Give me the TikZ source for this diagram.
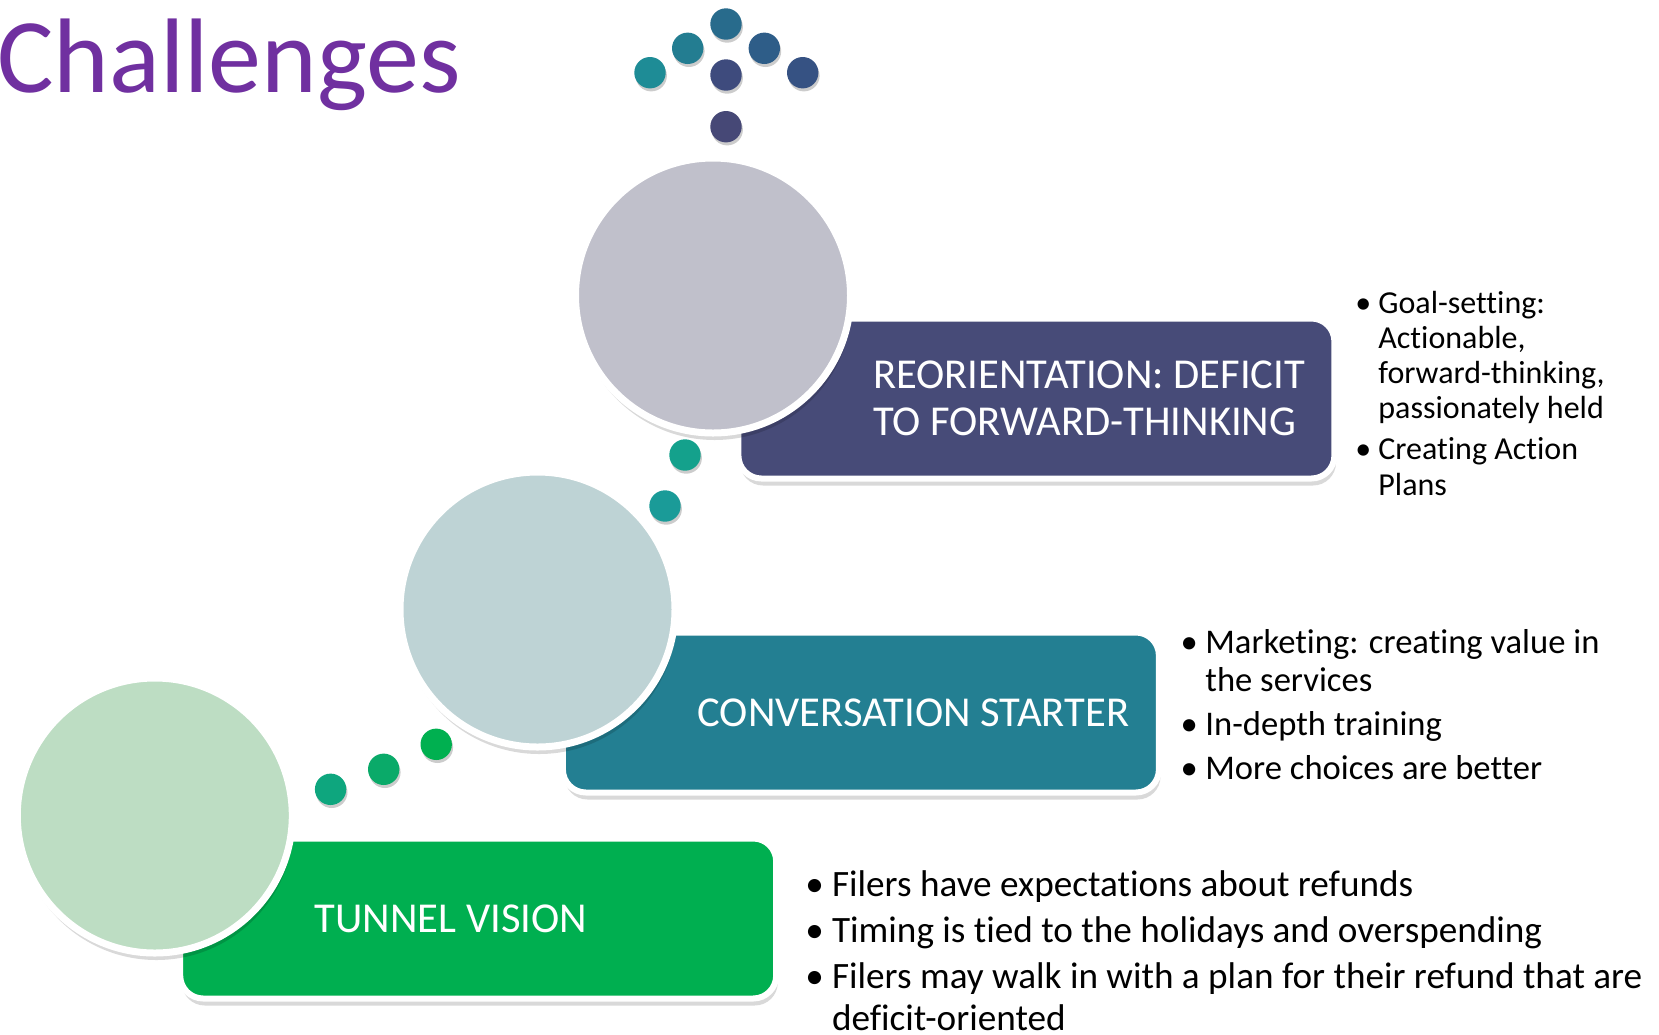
\documentclass[tikz,border=0pt]{standalone}
\usepackage{fontspec}
\setmainfont[Ligatures={NoCommon}]{Carlito}
\usepackage{tikz}
\usetikzlibrary{positioning, shadows}
\definecolor{titlepurple}{RGB}{112, 48, 160}
\definecolor{slatebox}{RGB}{71, 75, 120}
\definecolor{tealbox}{RGB}{35, 127, 146}
\definecolor{greenbox}{RGB}{0, 175, 80}
\definecolor{slatebubble}{RGB}{192, 192, 203}
\definecolor{tealbubble}{RGB}{190, 211, 213}
\definecolor{greenbubble}{RGB}{189, 221, 195}
% colours of the small dots, from green over teal to slate
\definecolor{trailA}{RGB}{14, 166, 126}
\definecolor{trailB}{RGB}{10, 170, 105}
\definecolor{trailC}{RGB}{0, 176, 80}
\definecolor{trailD}{RGB}{26, 155, 152}
\definecolor{trailE}{RGB}{20, 161, 140}
\definecolor{crownA}{RGB}{30, 140, 150}
\definecolor{crownB}{RGB}{35, 125, 145}
\definecolor{crownC}{RGB}{40, 107, 140}
\definecolor{crownD}{RGB}{46, 93, 136}
\definecolor{crownE}{RGB}{54, 82, 131}
\definecolor{crownF}{RGB}{62, 75, 125}
\definecolor{crownG}{RGB}{70, 72, 118}

\newcommand{\itemdot}{\llap{\textbullet\hspace{0.22em}}}

\begin{document}
\begin{tikzpicture}[
    x=0.5pt, y=-0.5pt,
    bubble/.style={circle, draw=white, line width=3.5pt, minimum size=137.5pt, inner sep=0pt,
        drop shadow={shadow xshift=0.8pt, shadow yshift=-3.5pt, opacity=0.15, fill=black}},
    stage/.style={rectangle, rounded corners=11.5pt, draw=white, line width=3pt, minimum width=298pt,
        minimum height=80pt, inner sep=0pt, anchor=north west, xshift=11.2pt, yshift=-10pt,
        drop shadow={shadow xshift=0.8pt, shadow yshift=-3.5pt, opacity=0.15, fill=black}},
    stagetext/.style={anchor=west, align=left, inner sep=0pt, text=white, font=\fontsize{21.3pt}{23.8pt}\selectfont},
    trail/.style={circle, minimum size=15.7pt, inner sep=0pt,
        drop shadow={shadow xshift=0.6pt, shadow yshift=-1.5pt, opacity=0.2, fill=black}},
    notes/.style={anchor=base west, align=left, inner sep=0pt}
]
    \fill[white] (0,0) rectangle (1659,1034);
    \useasboundingbox (0,0) rectangle (1659,1034);

    \node[anchor=base west, inner sep=0pt, text=titlepurple, font=\fontsize{53pt}{60pt}\selectfont] (title) at (-3,92) {Challenges};

    % centres of the three big bubbles
    \coordinate (tunnelc) at (154.8,815.5);
    \coordinate (convc)   at (537.5,609.5);
    \coordinate (reoc)    at (713,295.5);

    % stage boxes, each tucked under its bubble
    \node[stage, fill=greenbox] (tunnel) at (tunnelc) {};
    \node[stage, fill=tealbox]  (conv)   at (convc) {};
    \node[stage, fill=slatebox] (reo)    at (reoc) {};

    \node[stagetext] (tunneltext) at ([xshift=68.6pt]tunnel.west) {TUNNEL VISION};
    \node[stagetext] (convtext)   at ([xshift=68.6pt]conv.west)   {CONVERSATION STARTER};
    \node[stagetext] (reotext)    at ([xshift=68.6pt]reo.west)    {REORIENTATION: DEFICIT\\TO FORWARD-THINKING};

    \node[bubble, fill=greenbubble] (tunnelb) at (tunnelc) {};
    \node[bubble, fill=tealbubble]  (convb)   at (convc) {};
    \node[bubble, fill=slatebubble] (reob)    at (reoc) {};

    % dots leading from one stage to the next
    \node[trail, fill=trailA] (t1) at (330.6,789.3) {};
    \node[trail, fill=trailB] (t2) at (383.7,769.3) {};
    \node[trail, fill=trailC] (t3) at (436.2,744.3) {};
    \node[trail, fill=trailD] (t4) at (665,506) {};
    \node[trail, fill=trailE] (t5) at (685,455) {};

    % arrow of dots above the top bubble
    \node[trail, fill=crownA] (k1) at (650,72.7) {};
    \node[trail, fill=crownB] (k2) at (687.7,48.3) {};
    \node[trail, fill=crownC] (k3) at (726,24) {};
    \node[trail, fill=crownD] (k4) at (764.3,48.3) {};
    \node[trail, fill=crownE] (k5) at (802.7,72.7) {};
    \node[trail, fill=crownF] (k6) at (726,75) {};
    \node[trail, fill=crownG] (k7) at (726,126.7) {};

    % notes beside each stage (placed by their last baseline)
    \node[notes, font=\fontsize{16pt}{17.6pt}\selectfont] (reonotes) at (1378,495)
        {\itemdot Goal-setting:\\Actionable,\\forward-thinking,\\passionately held\\[3pt]\itemdot Creating Action\\Plans};
    \node[notes, font=\fontsize{17.3pt}{19pt}\selectfont] (convnotes) at (1205,779)
        {\itemdot Marketing: creating value in\\the services\\[3pt]\itemdot In-depth training\\[3pt]\itemdot More choices are better};
    \node[notes, font=\fontsize{18.6pt}{21pt}\selectfont] (tunnelnotes) at (831.7,1030)
        {\itemdot Filers have expectations about refunds\\[2pt]\itemdot Timing is tied to the holidays and overspending\\[2pt]\itemdot Filers may walk in with a plan for their refund that are\\deficit-oriented};
\end{tikzpicture}
\end{document}
